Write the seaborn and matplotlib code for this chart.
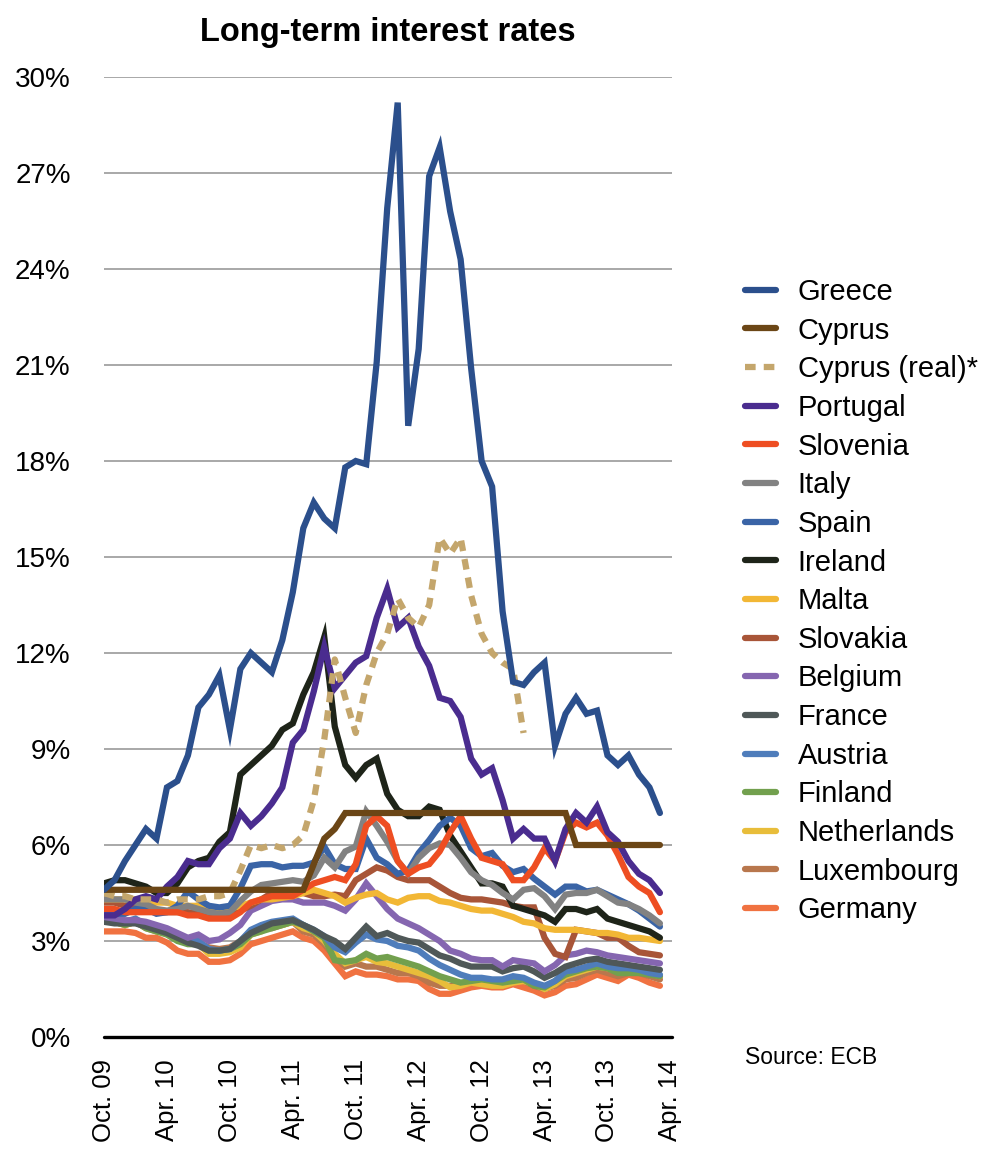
import matplotlib
matplotlib.use("Agg")
import matplotlib.pyplot as plt
import seaborn as sns
import pandas as pd
from matplotlib.lines import Line2D

# monthly observations, Oct. 2009 (0) to Mar. 2014 (53)
tick_pos = [0, 6, 12, 18, 24, 30, 36, 42, 48, 54]
tick_labels = ["Oct. 09", "Apr. 10", "Oct. 10", "Apr. 11", "Oct. 11",
               "Apr. 12", "Oct. 12", "Apr. 13", "Oct. 13", "Apr. 14"]

greece = [4.6, 4.9, 5.5, 6.0, 6.5, 6.2, 7.8, 8.0, 8.8, 10.3, 10.7, 11.3,
          9.6, 11.5, 12.0, 11.7, 11.4, 12.4, 13.9, 15.9, 16.7, 16.2, 15.9, 17.8,
          18.0, 17.9, 21.1, 25.9, 29.2, 19.1, 21.5, 26.9, 27.8, 25.8, 24.3, 20.9,
          18.0, 17.2, 13.3, 11.1, 11.0, 11.4, 11.7, 9.1, 10.1, 10.6, 10.1, 10.2,
          8.8, 8.5, 8.8, 8.2, 7.8, 7.0]
cyprus = [4.6, 4.6, 4.6, 4.6, 4.6, 4.6, 4.6, 4.6, 4.6, 4.6, 4.6, 4.6,
          4.6, 4.6, 4.6, 4.6, 4.6, 4.6, 4.6, 4.6, 5.4, 6.2, 6.5, 7.0,
          7.0, 7.0, 7.0, 7.0, 7.0, 7.0, 7.0, 7.0, 7.0, 7.0, 7.0, 7.0,
          7.0, 7.0, 7.0, 7.0, 7.0, 7.0, 7.0, 7.0, 7.0, 6.0, 6.0, 6.0,
          6.0, 6.0, 6.0, 6.0, 6.0, 6.0]
cyprus_real = [4.5, 4.4, 4.4, 4.3, 4.3, 4.3, 4.2, 4.3, 4.3, 4.3, 4.4, 4.4,
               4.5, 5.2, 6.0, 5.9, 6.0, 5.9, 6.0, 6.3, 7.4, 9.3, 11.8, 10.6,
               9.5, 11.0, 12.0, 12.6, 13.7, 13.1, 12.8, 13.5, 15.6, 15.1, 15.6, 13.8,
               12.6, 12.0, 11.7, 11.5, 9.5]
portugal = [3.8, 3.8, 4.0, 4.3, 4.4, 4.3, 4.7, 5.0, 5.5, 5.4, 5.4, 5.9,
            6.2, 7.0, 6.6, 6.9, 7.3, 7.8, 9.2, 9.6, 10.8, 12.2, 10.9, 11.3,
            11.7, 11.9, 13.1, 14.0, 12.8, 13.1, 12.2, 11.6, 10.6, 10.5, 10.0, 8.7,
            8.2, 8.4, 7.4, 6.2, 6.5, 6.2, 6.2, 5.5, 6.5, 7.0, 6.7, 7.2,
            6.4, 6.1, 5.5, 5.1, 4.9, 4.5]
slovenia = [4.0, 4.0, 3.9, 3.9, 3.9, 3.9, 3.9, 3.9, 3.8, 3.8, 3.7, 3.7,
            3.7, 3.9, 4.2, 4.3, 4.4, 4.4, 4.4, 4.6, 4.8, 4.9, 5.0, 4.9,
            5.4, 6.6, 6.9, 6.6, 5.5, 5.1, 5.3, 5.4, 5.8, 6.4, 6.9, 6.2,
            5.6, 5.5, 5.4, 4.9, 4.9, 5.3, 5.9, 5.5, 6.4, 6.7, 6.55, 6.7,
            6.3, 5.7, 5.0, 4.7, 4.5, 3.9]
italy = [4.3, 4.3, 4.3, 4.2, 4.15, 4.0, 3.95, 4.0, 4.1, 4.0, 3.9, 3.85,
         3.9, 4.25, 4.55, 4.75, 4.8, 4.85, 4.9, 4.85, 5.05, 5.6, 5.3, 5.8,
         5.95, 7.05, 6.6, 6.1, 5.5, 5.1, 5.6, 5.9, 6.05, 6.0, 5.6, 5.15,
         4.9, 4.75, 4.5, 4.3, 4.6, 4.65, 4.4, 4.0, 4.45, 4.5, 4.5, 4.6,
         4.4, 4.2, 4.15, 4.0, 3.8, 3.55]
spain = [3.85, 3.85, 3.85, 4.0, 4.0, 3.85, 3.9, 4.1, 4.55, 4.3, 4.1, 4.05,
         4.1, 4.65, 5.35, 5.4, 5.4, 5.3, 5.35, 5.35, 5.45, 5.95, 5.4, 5.25,
         5.25, 6.2, 5.6, 5.4, 5.1, 5.2, 5.75, 6.15, 6.6, 6.85, 6.6, 5.9,
         5.65, 5.75, 5.35, 5.15, 5.25, 4.95, 4.7, 4.45, 4.7, 4.7, 4.55, 4.6,
         4.45, 4.3, 4.15, 3.95, 3.7, 3.45]
ireland = [4.8, 4.9, 4.9, 4.8, 4.7, 4.5, 4.5, 4.8, 5.3, 5.5, 5.6, 6.1,
           6.4, 8.2, 8.5, 8.8, 9.1, 9.6, 9.8, 10.7, 11.4, 12.5, 9.7, 8.5,
           8.1, 8.5, 8.7, 7.6, 7.1, 6.9, 6.9, 7.2, 7.1, 6.3, 5.8, 5.3,
           4.8, 4.8, 4.7, 4.1, 4.0, 3.9, 3.8, 3.6, 4.0, 4.0, 3.9, 4.0,
           3.7, 3.6, 3.5, 3.4, 3.3, 3.1]
malta = [4.3, 4.3, 4.3, 4.3, 4.2, 4.2, 4.2, 4.1, 4.1, 4.1, 4.0, 4.0,
         4.0, 4.1, 4.2, 4.3, 4.3, 4.35, 4.4, 4.5, 4.6, 4.5, 4.4, 4.2,
         4.35, 4.45, 4.5, 4.3, 4.2, 4.35, 4.4, 4.4, 4.25, 4.2, 4.1, 4.0,
         3.95, 3.95, 3.85, 3.75, 3.6, 3.55, 3.4, 3.35, 3.35, 3.35, 3.3, 3.25,
         3.25, 3.2, 3.1, 3.1, 3.05, 3.0]
slovakia = [4.2, 4.2, 4.1, 4.1, 4.0, 3.9, 3.9, 3.9, 3.9, 3.85, 3.8, 3.8,
            3.8, 3.95, 4.1, 4.3, 4.5, 4.5, 4.5, 4.5, 4.4, 4.4, 4.45, 4.4,
            4.9, 5.1, 5.3, 5.2, 5.0, 4.9, 4.9, 4.9, 4.7, 4.5, 4.35, 4.3,
            4.3, 4.25, 4.2, 4.1, 4.05, 4.05, 3.1, 2.6, 2.5, 3.35, 3.3, 3.25,
            3.1, 3.1, 2.85, 2.65, 2.6, 2.55]
belgium = [3.75, 3.7, 3.65, 3.65, 3.6, 3.5, 3.4, 3.25, 3.1, 3.2, 3.0, 3.05,
           3.25, 3.5, 3.95, 4.1, 4.25, 4.3, 4.3, 4.2, 4.2, 4.2, 4.1, 3.95,
           4.3, 4.8, 4.4, 4.0, 3.7, 3.55, 3.4, 3.2, 3.0, 2.7, 2.6, 2.45,
           2.4, 2.4, 2.2, 2.4, 2.35, 2.3, 2.05, 2.25, 2.55, 2.6, 2.7, 2.65,
           2.55, 2.5, 2.45, 2.4, 2.35, 2.3]
france = [3.6, 3.55, 3.55, 3.55, 3.45, 3.35, 3.25, 3.1, 2.95, 2.85, 2.7, 2.7,
          2.75, 3.0, 3.25, 3.4, 3.55, 3.6, 3.65, 3.5, 3.35, 3.15, 3.0, 2.75,
          3.1, 3.45, 3.15, 3.25, 3.1, 3.0, 2.95, 2.75, 2.55, 2.45, 2.3, 2.2,
          2.2, 2.2, 2.05, 2.15, 2.2, 2.05, 1.85, 2.0, 2.2, 2.3, 2.4, 2.45,
          2.35, 2.3, 2.25, 2.2, 2.15, 2.1]
austria = [3.7, 3.7, 3.6, 3.7, 3.5, 3.4, 3.3, 3.15, 3.05, 3.0, 2.75, 2.7,
           2.75, 3.0, 3.35, 3.5, 3.6, 3.65, 3.7, 3.5, 3.35, 3.15, 2.8, 2.65,
           2.95, 3.2, 3.05, 3.0, 2.85, 2.8, 2.7, 2.45, 2.25, 2.1, 1.95, 1.85,
           1.85, 1.8, 1.8, 1.9, 1.85, 1.7, 1.6, 1.75, 2.05, 2.1, 2.2, 2.3,
           2.2, 2.15, 2.15, 2.1, 2.0, 1.95]
finland = [3.6, 3.6, 3.5, 3.6, 3.4, 3.3, 3.2, 3.0, 2.9, 2.9, 2.7, 2.7,
           2.75, 2.9, 3.2, 3.3, 3.4, 3.5, 3.6, 3.5, 3.3, 3.1, 2.4, 2.35,
           2.4, 2.6, 2.45, 2.5, 2.4, 2.3, 2.2, 2.05, 1.9, 1.8, 1.7, 1.75,
           1.8, 1.75, 1.7, 1.75, 1.8, 1.6, 1.55, 1.75, 1.95, 2.05, 2.15, 2.2,
           2.15, 2.0, 2.0, 2.0, 1.95, 1.9]
netherlands = [3.6, 3.6, 3.5, 3.6, 3.5, 3.3, 3.3, 3.1, 3.0, 2.9, 2.6, 2.6,
               2.65, 2.8, 3.2, 3.3, 3.5, 3.5, 3.6, 3.4, 3.3, 3.0, 2.6, 2.3,
               2.4, 2.5, 2.35, 2.3, 2.2, 2.1, 2.0, 1.9, 1.75, 1.55, 1.6, 1.7,
               1.65, 1.6, 1.6, 1.7, 1.75, 1.65, 1.5, 1.65, 1.9, 2.0, 2.1, 2.2,
               2.15, 2.05, 2.1, 2.05, 2.0, 1.9]
luxembourg = [3.6, 3.6, 3.5, 3.6, 3.4, 3.3, 3.3, 3.1, 3.0, 2.95, 2.8, 2.75,
              2.8, 3.0, 3.3, 3.4, 3.4, 3.5, 3.6, 3.3, 3.2, 2.9, 2.5, 2.2,
              2.3, 2.2, 2.2, 2.1, 2.0, 2.0, 1.9, 1.7, 1.6, 1.6, 1.65, 1.7,
              1.75, 1.7, 1.7, 1.8, 1.75, 1.6, 1.5, 1.6, 1.8, 1.85, 2.0, 2.1,
              2.0, 1.9, 2.0, 2.0, 1.9, 1.8]
germany = [3.3, 3.3, 3.3, 3.25, 3.1, 3.1, 2.95, 2.7, 2.6, 2.6, 2.35, 2.35,
           2.4, 2.6, 2.9, 3.0, 3.1, 3.2, 3.3, 3.1, 3.0, 2.7, 2.3, 1.9,
           2.05, 1.95, 1.95, 1.9, 1.8, 1.8, 1.75, 1.5, 1.35, 1.35, 1.45, 1.55,
           1.6, 1.55, 1.55, 1.65, 1.55, 1.45, 1.3, 1.4, 1.6, 1.65, 1.8, 1.95,
           1.85, 1.75, 1.95, 1.85, 1.7, 1.6]

countries = ["Greece", "Cyprus", "Cyprus (real)*", "Portugal", "Slovenia", "Italy",
             "Spain", "Ireland", "Malta", "Slovakia", "Belgium", "France",
             "Austria", "Finland", "Netherlands", "Luxembourg", "Germany"]
series = [greece, cyprus, cyprus_real, portugal, slovenia, italy, spain, ireland,
          malta, slovakia, belgium, france, austria, finland, netherlands,
          luxembourg, germany]
colors = ["#2b4f8c", "#6b4616", "#c4a66c", "#4a2c8f", "#ee4e22", "#828282",
          "#3a64a6", "#1e2419", "#f2b735", "#a85538", "#8566b0", "#4f5858",
          "#4f7dbb", "#72a04e", "#e8bd3a", "#b8774d", "#f07241"]

rows = []
for name, vals in zip(countries, series):
    for m, v in enumerate(vals):
        rows.append({"month": m, "rate": v, "country": name})
df = pd.DataFrame(rows)

sns.set_style("white")
plt.rcParams["font.family"] = ["Liberation Sans", "DejaVu Sans"]
plt.rcParams["text.color"] = "black"
plt.rcParams["xtick.color"] = "black"
plt.rcParams["ytick.color"] = "black"

fig = plt.figure(figsize=(9.96, 11.49), dpi=100)
ax = fig.add_axes([104 / 996, 1 - 1037 / 1149, 568 / 996, 960 / 1149])

LW = 4.5
dash = (0, (1.7, 1.3))

# draw bottom of legend first so Greece ends up on top
for name, col in reversed(list(zip(countries, colors))):
    sub = df[df["country"] == name]
    kw = {"linestyle": dash} if name == "Cyprus (real)*" else {}
    sns.lineplot(data=sub, x="month", y="rate", color=col, linewidth=LW,
                 estimator=None, sort=False, ax=ax, solid_joinstyle="miter", **kw)

ax.set_xlim(0, 54.15)
ax.set_ylim(0, 30)
ax.set_yticks(range(0, 31, 3))
ax.set_yticklabels([f"{t}%" for t in range(0, 31, 3)], fontsize=20)
ax.set_xticks(tick_pos)
ax.set_xticklabels(tick_labels, rotation=90, fontsize=18.5)
ax.tick_params(axis="both", length=0)
ax.tick_params(axis="y", pad=24)
ax.tick_params(axis="x", pad=16)
ax.set_xlabel("")
ax.set_ylabel("")

ax.yaxis.grid(True, color="#9a9a9a", linewidth=1.2)
ax.xaxis.grid(False)
ax.set_axisbelow(True)
for s in ax.spines.values():
    s.set_visible(False)
ax.axhline(0, color="black", linewidth=2.4, clip_on=False, zorder=5)

ax.set_title("Long-term interest rates", fontsize=23.5, fontweight="bold", pad=26)

handles = []
for name, col in zip(countries, colors):
    ls = dash if name == "Cyprus (real)*" else "-"
    handles.append(Line2D([0], [0], color=col, linewidth=LW, linestyle=ls))
fig.legend(handles, countries, loc="upper left",
           bbox_to_anchor=(745 / 996, 1 - 278 / 1149), frameon=False,
           fontsize=21, handlelength=1.05, handletextpad=0.75,
           labelspacing=0.365, borderpad=0, borderaxespad=0)

fig.text(745 / 996, 1 - 1058 / 1149, "Source: ECB", fontsize=16.5, va="center")

fig.savefig("out.png", dpi=100)
